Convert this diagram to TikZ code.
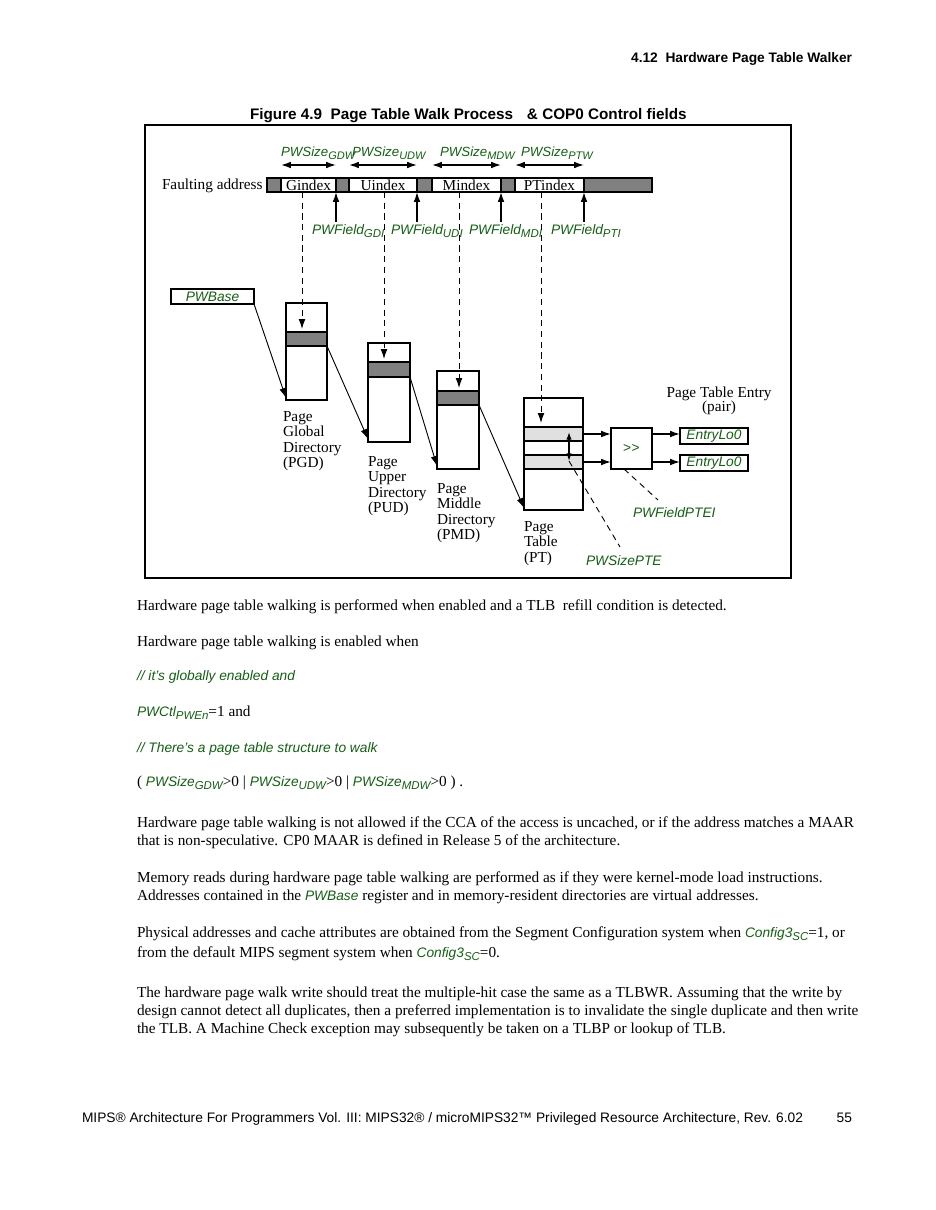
\documentclass[tikz,border=0pt]{standalone}
\usepackage{fontspec}
\setmainfont{Liberation Serif}
\setsansfont{Liberation Sans}
\usetikzlibrary{arrows.meta,fit,calc}
\definecolor{pwg}{RGB}{20,95,20}
\definecolor{barg}{RGB}{128,128,128}
\definecolor{lgr}{RGB}{224,224,224}
\newcommand{\gsub}[1]{\raisebox{-0.45ex}{\fontsize{7.5}{8}\selectfont #1}}
\newcommand{\gsubs}[1]{\raisebox{-0.45ex}{\fontsize{7.2}{8}\selectfont #1}}
\newcommand{\gtxt}[1]{{\color{pwg}\sffamily\itshape\fontsize{9}{11}\selectfont #1}}
\begin{document}
\begin{tikzpicture}[x=0.6545pt,y=-0.6545pt,
  >={Latex[length=6.5pt,width=4.4pt]},
  every node/.style={inner sep=0pt, outer sep=0pt},
  ser/.style={font=\fontsize{10}{10.2}\selectfont},
  grn/.style={text=pwg, font=\sffamily\itshape\fontsize{9}{11}\selectfont},
  grns/.style={text=pwg, font=\sffamily\itshape\fontsize{8.7}{10}\selectfont},
  body/.style={anchor=base west, font=\fontsize{10}{12}\selectfont},
  frm/.style={draw, line width=0.7pt},
  cell/.style={draw, line width=0.8pt, fill=white},
  band/.style={draw, line width=0.8pt, fill=barg},
  lband/.style={draw, line width=0.8pt, fill=lgr},
  conn/.style={->, line width=0.6pt},
  thk/.style={->, line width=0.9pt},
  dsh/.style={dash pattern=on 4pt off 3pt, line width=0.6pt},
  dsharr/.style={dsh, ->},
]
\fill[white] (0,0) rectangle (935,1210);
\useasboundingbox (0,0) rectangle (935,1210);

% header and title
\node[anchor=base east, font=\sffamily\bfseries\fontsize{9}{11}\selectfont] (hdr) at (852,63) {4.12\ \ Hardware Page Table Walker};
\node[anchor=base west, font=\sffamily\bfseries\fontsize{10}{12}\selectfont] (title) at (250,119) {Figure 4.9\ \ Page Table Walk Process\hspace{9pt}\& COP0 Control fields};

% frame
\node[frm, fit={(145,125)(791,578)}] (frame) {};

% faulting address bar
\node[ser, anchor=base west] (fa) at (162,189) {Faulting address};
\node[band, fit={(267,178)(652,192)}] (bar) {};
\node[cell, fit={(281,178)(336,192)}] (gidx) {};
\node[cell, fit={(349,178)(417,192)}] (uidx) {};
\node[cell, fit={(432,178)(501,192)}] (midx) {};
\node[cell, fit={(515,178)(584,192)}] (ptidx) {};
\node[ser] (gidxt) at (gidx.center) {Gindex};
\node[ser] (uidxt) at (uidx.center) {Uindex};
\node[ser] (midxt) at (midx.center) {Mindex};
\node[ser] (ptidxt) at (ptidx.center) {PTindex};

% size arrows
\draw[<->, line width=0.9pt] ($(gidx.north west)+(0,-13)$) -- ($(gidx.north east)+(0,-13)$);
\draw[<->, line width=0.9pt] ($(uidx.north west)+(0,-13)$) -- ($(uidx.north east)+(0,-13)$);
\draw[<->, line width=0.9pt] ($(midx.north west)+(0,-13)$) -- ($(midx.north east)+(0,-13)$);
\draw[<->, line width=0.9pt] ($(ptidx.north west)+(0,-13)$) -- ($(ptidx.north east)+(0,-13)$);
\node[grns, anchor=base west] (sgdw) at (281,156) {PWSize\gsubs{GDW}};
\node[grns, anchor=base west] (sudw) at (352,156) {PWSize\gsubs{UDW}};
\node[grns, anchor=base west] (smdw) at (440,156) {PWSize\gsubs{MDW}};
\node[grns, anchor=base west] (sptw) at (521,156) {PWSize\gsubs{PTW}};

% field arrows
\draw[thk] ($(gidx.south east)+(0,30)$) -- (gidx.south east);
\draw[thk] ($(uidx.south east)+(0,30)$) -- (uidx.south east);
\draw[thk] ($(midx.south east)+(0,30)$) -- (midx.south east);
\draw[thk] ($(ptidx.south east)+(0,30)$) -- (ptidx.south east);
\node[grn, anchor=base west] (fgdi) at (312,234) {PWField\gsub{GDI}};
\node[grn, anchor=base west] (fudi) at (391,234) {PWField\gsub{UDI}};
\node[grn, anchor=base west] (fmdi) at (469,234) {PWField\gsub{MDI}};
\node[grn, anchor=base west] (fpti) at (551,234) {PWField\gsub{PTI}};

% PWBase
\node[cell, fit={(171,289)(254,304)}] (pwbase) {};
\node[grn] (pwbaset) at (pwbase.center) {PWBase};

% tables
\node[cell, fit={(286,303)(327,400)}] (pgd) {};
\node[band, fit={(286,332)(327,346)}] (pgdb) {};
\node[cell, fit={(368,343)(410,442)}] (pud) {};
\node[band, fit={(368,362)(410,377)}] (pudb) {};
\node[cell, fit={(437,371)(479,469)}] (pmd) {};
\node[band, fit={(437,391)(479,405)}] (pmdb) {};
\node[cell, fit={(524,398)(583,510)}] (pt) {};
\node[lband, fit={(524,427)(583,441)}] (ptb1) {};
\node[lband, fit={(524,455)(583,469)}] (ptb2) {};

% dashed index lines
\coordinate (g0) at (302,192); \coordinate (g1) at (302,329);
\coordinate (u0) at (384,192); \coordinate (u1) at (384,359);
\coordinate (m0) at (459,192); \coordinate (m1) at (459,388);
\coordinate (p0) at (541,192); \coordinate (p1) at (541,423);
\draw[dsharr] (g0) -- (g1);
\draw[dsharr] (u0) -- (u1);
\draw[dsharr] (m0) -- (m1);
\draw[dsharr] (p0) -- (p1);

% walk connectors
\draw[conn] (pwbase.south east) -- ($(pgd.south west)+(0,-2)$);
\draw[conn] (pgdb.south east) -- ($(pud.south west)+(0,-3)$);
\draw[conn] (pudb.south east) -- ($(pmd.south west)+(0,-3)$);
\draw[conn] (pmdb.south east) -- ($(pt.south west)+(0,-2)$);

% table labels
\node[ser, anchor=north west, align=left] (lpgd) at (283,411) {Page\\Global\\Directory\\(PGD)};
\node[ser, anchor=north west, align=left] (lpud) at (368,456) {Page\\Upper\\Directory\\(PUD)};
\node[ser, anchor=north west, align=left] (lpmd) at (437,483) {Page\\Middle\\Directory\\(PMD)};
\node[ser, anchor=north west, align=left] (lpt) at (524,521) {Page\\Table\\(PT)};

% shift and entries
\node[cell, fit={(611,428)(652,469)}] (shft) {};
\node[text=pwg, font=\sffamily\fontsize{9}{10}\selectfont] (shftt) at (shft.center) {>\kern0.3pt>};
\node[cell, fit={(680,428)(748,444)}] (e1) {};
\node[cell, fit={(680,455)(748,471)}] (e2) {};
\node[grn] (e1t) at (e1.center) {EntryLo0};
\node[grn] (e2t) at (e2.center) {EntryLo0};
\draw[thk] (ptb1.east) -- (ptb1.east -| shft.west);
\draw[thk] (ptb2.east) -- (ptb2.east -| shft.west);
\draw[thk] (shft.east |- ptb1.east) -- (e1.west |- ptb1.east);
\draw[thk] (shft.east |- ptb2.east) -- (e2.west |- ptb2.east);
\node[align=center, font=\fontsize{10}{9.5}\selectfont] (pte) at (719,401) {Page Table Entry\\(pair)};

% PTE size
\coordinate (da) at (569,432); \coordinate (db) at (569,461);
\draw[<->, line width=0.9pt, >={Latex[length=5pt,width=3.6pt]}] (da) -- (db);
\coordinate (ds) at (620,547);
\draw[dsh] (db) -- (ds);
\coordinate (sf0) at (624,469); \coordinate (sf1) at (658,500);
\draw[dsh] (sf0) -- (sf1);
\node[grn, anchor=base west] (fptei) at (633,517) {PWFieldPTEI};
\node[grn, anchor=base west] (spte) at (586,565) {PWSizePTE};

% body text
\node[body] (t1) at (137,610) {Hardware page table walking is performed when enabled and a TLB\ \ refill condition is detected.};
\node[body] (t2) at (137,646) {Hardware page table walking is enabled when};
\node[body] (t3) at (137,680) {\gtxt{// it's globally enabled and}};
\node[body] (t4) at (137,716) {\gtxt{PWCtl\gsub{PWEn}}=1 and};
\node[body] (t5) at (137,752) {\gtxt{// There's a page table structure to walk}};
\node[body] (t6) at (137,786) {( \gtxt{PWSize\gsub{GDW}}>0 | \gtxt{PWSize\gsub{UDW}}>0 | \gtxt{PWSize\gsub{MDW}}>0 ) .};
\node[body] (t7) at (137,827) {Hardware page table walking is not allowed if the CCA of the access is uncached, or if the address matches a MAAR};
\node[body] (t8) at (137,845) {that is non-speculative. CP0 MAAR is defined in Release 5 of the architecture.};
\node[body] (t9) at (137,882) {Memory reads during hardware page table walking are performed as if they were kernel-mode load instructions.};
\node[body] (t10) at (137,900) {Addresses contained in the \gtxt{PWBase} register and in memory-resident directories are virtual addresses.};
\node[body] (t11) at (137,937) {Physical addresses and cache attributes are obtained from the Segment Configuration system when \gtxt{Config3\gsub{SC}}=1, or};
\node[body] (t12) at (137,957) {from the default MIPS segment system when \gtxt{Config3\gsub{SC}}=0.};
\node[body] (t13) at (137,997) {The hardware page walk write should treat the multiple-hit case the same as a TLBWR. Assuming that the write by};
\node[body] (t14) at (137,1015) {design cannot detect all duplicates, then a preferred implementation is to invalidate the single duplicate and then write};
\node[body] (t15) at (137,1033) {the TLB. A Machine Check exception may subsequently be taken on a TLBP or lookup of TLB.};

% footer
\node[anchor=base west, font=\sffamily\fontsize{9}{11}\selectfont] (foot) at (82,1122) {MIPS® Architecture For Programmers Vol. III: MIPS32® / microMIPS32™ Privileged Resource Architecture, Rev. 6.02};
\node[anchor=base east, font=\sffamily\fontsize{9}{11}\selectfont] (pgno) at (852,1122) {55};
\end{tikzpicture}
\end{document}
